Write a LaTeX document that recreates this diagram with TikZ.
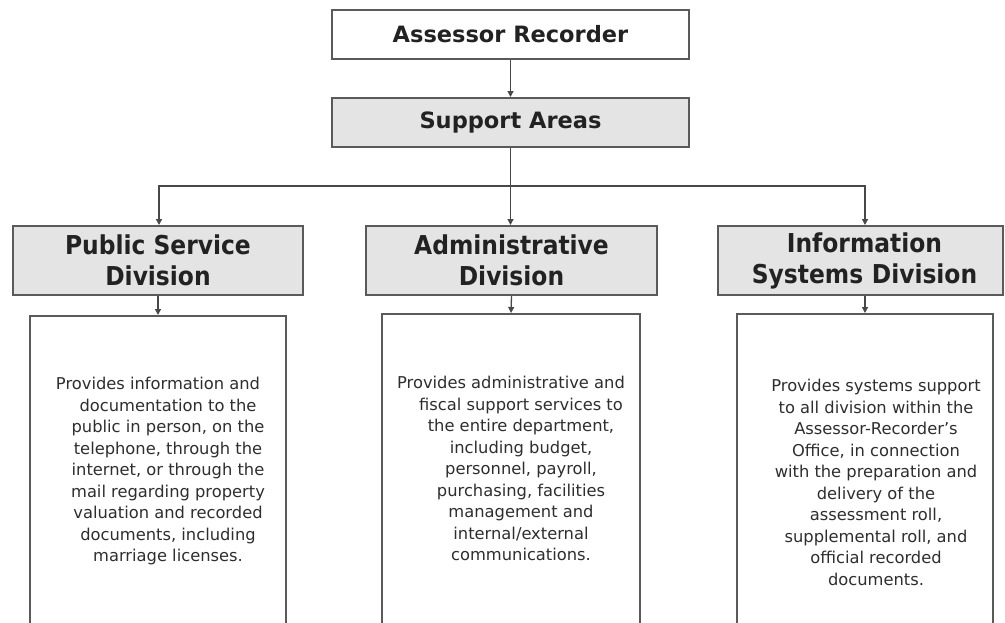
\documentclass[tikz,border=0pt]{standalone}
\usepackage{fontspec}
\setmainfont{DejaVu Sans Condensed}
\newfontfamily\widefont{DejaVu Sans}
\usetikzlibrary{arrows.meta}
\definecolor{boxline}{HTML}{5A5A5A}
\definecolor{boxfill}{HTML}{E4E4E4}
\definecolor{txt}{HTML}{222222}
\definecolor{desctxt}{HTML}{2E2E2E}
\tikzset{
  topbox/.style={draw=boxline, line width=2pt, rectangle, minimum width=357pt, minimum height=49pt, inner sep=0pt, text=txt, font=\widefont\fontsize{22.5}{28}\selectfont\bfseries},
  divbox/.style={draw=boxline, line width=2pt, rectangle, fill=boxfill, minimum height=69pt, inner sep=0pt, text=txt, align=center, font=\fontsize{26}{31}\selectfont\bfseries},
  descbox/.style={draw=boxline, line width=2pt, rectangle, minimum height=330pt, inner sep=0pt},
  desctext/.style={text=desctxt, align=center, inner sep=0pt, font=\widefont\fontsize{16.3}{21.5}\selectfont},
  conn/.style={draw=boxline!80!black, line width=1.3pt},
  arr/.style={conn, -{Triangle[width=6pt,length=6pt]}},
}
\begin{document}
\begin{tikzpicture}[x=1pt,y=-1pt]
\useasboundingbox (0,0) rectangle (1005,622);
\clip (0,0) rectangle (1005,622);
\fill[white] (0,0) rectangle (1005,622);
% top boxes
\node[topbox, fill=white] (ar) at (510.5,34) {Assessor Recorder};
\node[topbox, fill=boxfill] (sa) at (510.5,122.5) {Support Areas};
% division boxes
\node[divbox, minimum width=290pt] (psd) at (158,260.5) {Public Service\\Division};
\node[divbox, minimum width=291pt] (ad) at (511.5,260.5) {Administrative\\Division};
\node[divbox, minimum width=285pt, text width=285pt] (isd) at (860.5,260.5) {\hspace*{8pt}Information\\\hspace*{8pt}Systems Division};
% description boxes (cut off at the bottom)
\node[descbox, minimum width=256pt] (pdesc) at (158,481) {};
\node[descbox, minimum width=258pt] (adesc) at (511,479) {};
\node[descbox, minimum width=256pt] (idesc) at (865,479) {};
% description texts
\node[desctext] (ptext) at (168,471) {Provides information and\hspace*{20pt}\\documentation to the\\public in person, on the\\telephone, through the\\internet, or through the\\mail regarding property\\valuation and recorded\\documents, including\\marriage licenses.};
\node[desctext] (atext) at (521,468.5) {Provides administrative and\hspace*{20pt}\\fiscal support services to\\the entire department,\\including budget,\\personnel, payroll,\\purchasing, facilities\\management and\\internal/external\\communications.};
\node[desctext] (itext) at (876,482.5) {Provides systems support\\to all division within the\\Assessor-Recorder’s\\Office, in connection\\with the preparation and\\delivery of the\\assessment roll,\\supplemental roll, and\\official recorded\\documents.};
% connectors
\coordinate (bus) at (510.5,186);
\draw[arr] (ar.south) -- (sa.north);
\draw[conn] (sa.south) -- (bus);
\draw[arr] (bus) -| ([xshift=1pt]psd.north);
\draw[arr] (bus) -- (bus |- ad.north);
\draw[arr] (bus) -| (isd.north -| idesc.north);
\draw[arr] (psd.south) -- (pdesc.north);
\draw[arr] (ad.south) -- (adesc.north);
\draw[arr] (isd.south -| idesc.north) -- (idesc.north);
\end{tikzpicture}
\end{document}
